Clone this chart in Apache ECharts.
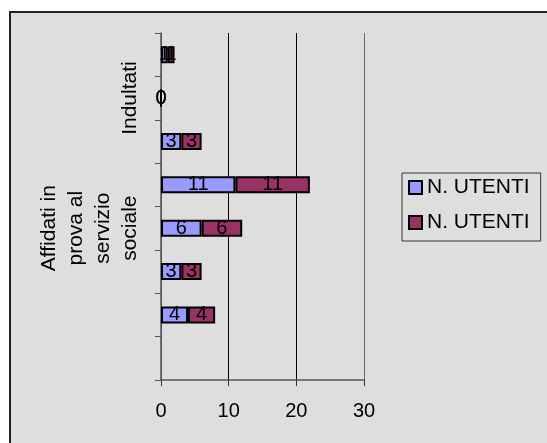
<!DOCTYPE html>
<html>
<head>
<meta charset="utf-8">
<script src="https://cdn.jsdelivr.net/npm/echarts@6/dist/echarts.min.js"></script>
<style>
  html, body { margin: 0; padding: 0; background: #ffffff; }
  #chart { width: 547px; height: 443px; }
</style>
</head>
<body>
<div id="chart"></div>
<script>
// Category rows, top to bottom; only the group rows carry a caption
const categories = ['', 'Indultati', '', '', 'Affidati in\nprova al\nservizio\nsociale', '', '', ''];
const seriesNames = ['N. UTENTI', 'N. UTENTI'];
const utentiA = [1, 0, 3, 11, 6, 3, 4, null];
const utentiB = [1, 0, 3, 11, 6, 3, 4, null];
const xTicks = [0, 10, 20, 30];

const FONT = '"Liberation Sans", Arial, sans-serif';
const chart = echarts.init(document.getElementById('chart'), null, { renderer: 'canvas' });

const barLabel = {
  show: true,
  position: 'inside',
  color: '#000',
  fontSize: 20,
  fontFamily: FONT
};

chart.setOption({
  animation: false,
  backgroundColor: '#ffffff',
  graphic: [{
    type: 'rect',
    z: -10,
    silent: true,
    shape: { x: 10, y: 12, width: 600, height: 500 },
    style: { fill: '#dedede', stroke: '#222', lineWidth: 2 }
  }],
  grid: { left: 161, right: 183, top: 33, bottom: 63, containLabel: false },
  legend: {
    orient: 'vertical',
    left: 402,
    top: 173,
    padding: [4, 11, 8, 6],
    itemGap: 14,
    itemWidth: 13,
    itemHeight: 13,
    icon: 'rect',
    borderColor: '#333',
    borderWidth: 1,
    textStyle: { fontSize: 21, color: '#000', fontFamily: FONT },
    data: [
      { name: seriesNames[0] + ' ', itemStyle: { color: '#9999ff', borderColor: '#000', borderWidth: 2 } },
      { name: seriesNames[1] + '  ', itemStyle: { color: '#993366', borderColor: '#000', borderWidth: 2 } }
    ],
    formatter: function (n) { return n.trim(); }
  },
  xAxis: {
    type: 'value',
    min: xTicks[0],
    max: xTicks[xTicks.length - 1],
    interval: xTicks[1] - xTicks[0],
    axisLine: { show: true, lineStyle: { color: '#555', width: 1.5 } },
    axisTick: { show: true, length: 6, lineStyle: { color: '#333' } },
    axisLabel: { color: '#000', fontSize: 20, fontFamily: FONT, margin: 21 },
    splitLine: { show: true, lineStyle: { color: ['#555', '#000', '#000', '#666'], width: 1 } }
  },
  yAxis: {
    type: 'category',
    inverse: true,
    data: categories,
    axisLine: { show: true, lineStyle: { color: '#555', width: 1.5 } },
    axisTick: { show: true, length: 6, lineStyle: { color: '#555' } },
    axisLabel: {
      rotate: 90,
      interval: 0,
      color: '#000',
      fontSize: 21,
      lineHeight: 27,
      fontFamily: FONT,
      margin: 17
    },
    splitLine: { show: false }
  },
  series: [
    {
      name: seriesNames[0] + ' ',
      type: 'bar',
      stack: 'utenti',
      barWidth: 17,
      data: utentiA,
      itemStyle: { color: '#9999ff', borderColor: '#000', borderWidth: 2 },
      label: barLabel
    },
    {
      name: seriesNames[1] + '  ',
      type: 'bar',
      stack: 'utenti',
      barWidth: 17,
      data: utentiB,
      itemStyle: { color: '#993366', borderColor: '#000', borderWidth: 2 },
      label: barLabel
    }
  ]
});
</script>
</body>
</html>
